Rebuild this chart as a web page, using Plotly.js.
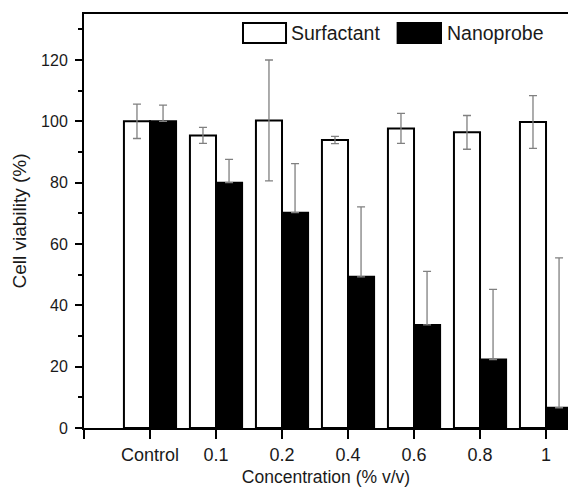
<!DOCTYPE html>
<html>
<head>
<meta charset="utf-8">
<script src="https://cdn.plot.ly/plotly-3.0.1.min.js"></script>
<style>html,body{margin:0;padding:0;background:#fff;overflow:hidden}</style>
</head>
<body>
<div id="chart" style="width:568px;height:489px"></div>
<script>
const categories = ["Control", "0.1", "0.2", "0.4", "0.6", "0.8", "1"];
const surfactant = [100.0, 95.4, 100.3, 93.9, 97.7, 96.4, 99.8];
const surfactantErr = [5.6, 2.6, 19.7, 1.2, 4.9, 5.5, 8.6];
const nanoprobe = [100.0, 80.0, 70.2, 49.3, 33.6, 22.3, 6.6];
const nanoprobeErr = [5.3, 7.6, 16.0, 22.8, 17.5, 22.9, 48.9];
const seriesNames = ["Surfactant", "Nanoprobe"];
const yTicks = [0, 20, 40, 60, 80, 100, 120];

const font = "Arial, 'Liberation Sans', sans-serif";
const errStyle = {thickness: 1.3, width: 4, color: "#808080"};
const positions = categories.map((c, i) => i);

const traces = [
  {
    type: "bar", name: seriesNames[0], x: positions, y: surfactant, text: categories, hoverinfo: "text+y", textposition: "none",
    marker: {color: "#ffffff", line: {color: "#000000", width: 2}},
    error_y: Object.assign({type: "data", array: surfactantErr, visible: true}, errStyle)
  },
  {
    type: "bar", name: seriesNames[1], x: positions, y: nanoprobe, text: categories, hoverinfo: "text+y", textposition: "none",
    marker: {color: "#000000", line: {color: "#000000", width: 2}},
    error_y: Object.assign({type: "data", symmetric: false, array: nanoprobeErr,
      arrayminus: nanoprobe.map(() => 0), visible: true}, errStyle)
  }
];

const xTickVals = [-1].concat(positions);
const xTickText = [""].concat(categories);

const layout = {
  width: 568, height: 489,
  margin: {l: 84, r: 0, t: 14, b: 61},
  paper_bgcolor: "#ffffff", plot_bgcolor: "#ffffff",
  font: {family: font, color: "#1a1a1a", size: 16},
  barmode: "group", bargap: 0.21, bargroupgap: 0,
  showlegend: false,
  xaxis: {
    type: "linear", range: [-1, 6.333],
    tickmode: "array", tickvals: xTickVals, ticktext: xTickText,
    ticks: "outside", ticklen: 9, tickwidth: 2, tickcolor: "#000",
    showline: true, linewidth: 2, linecolor: "#000", mirror: true,
    showgrid: false, zeroline: false,
    tickfont: {size: 18, family: font},
    title: {text: "Concentration (% v/v)", font: {size: 17.5, family: font}, standoff: 7}
  },
  yaxis: {
    range: [0, 135], tickmode: "array", tickvals: yTicks,
    ticks: "outside", ticklen: 7, tickwidth: 2, tickcolor: "#000",
    minor: {tickmode: "array", tickvals: [10, 30, 50, 70, 90, 110, 130], ticks: "outside", ticklen: 4, tickwidth: 2, tickcolor: "#000"},
    showline: true, linewidth: 2, linecolor: "#000", mirror: false,
    showgrid: false, zeroline: false,
    tickfont: {size: 16, family: font},
    ticklabelstandoff: 4,
    title: {text: "Cell viability (%)", font: {size: 19, family: font}, standoff: 9}
  },
  shapes: [
    {type: "rect", xref: "paper", yref: "paper", x0: 0.3285, x1: 0.4174, y0: 0.930, y1: 0.978,
      line: {color: "#000", width: 2}, fillcolor: "#ffffff"},
    {type: "rect", xref: "paper", yref: "paper", x0: 0.648, x1: 0.7376, y0: 0.930, y1: 0.978,
      line: {color: "#000", width: 2}, fillcolor: "#000000"}
  ],
  annotations: [
    {xref: "paper", yref: "paper", x: 0.424, y: 0.954, xanchor: "left", yanchor: "middle",
      text: seriesNames[0], showarrow: false, font: {size: 19.5, family: font, color: "#1a1a1a"}},
    {xref: "paper", yref: "paper", x: 0.746, y: 0.954, xanchor: "left", yanchor: "middle",
      text: seriesNames[1], showarrow: false, font: {size: 19.5, family: font, color: "#1a1a1a"}}
  ]
};

Plotly.newPlot("chart", traces, layout, {staticPlot: true, displayModeBar: false});
</script>
</body>
</html>
